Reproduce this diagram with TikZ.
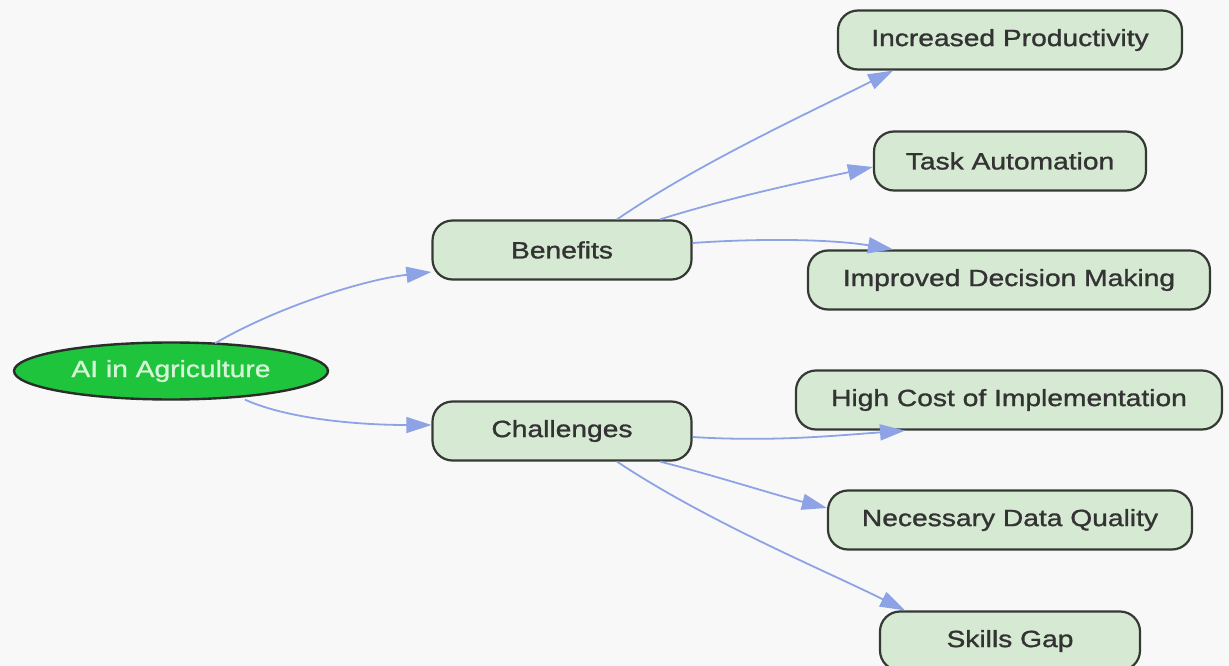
\documentclass[tikz,border=0pt]{standalone}
\usepackage{fontspec}
\setmainfont{Liberation Sans}[FakeStretch=1.2,FakeBold=1.2]
\usetikzlibrary{arrows.meta,shapes.geometric}
\definecolor{bg}{HTML}{F8F8F8}
\definecolor{boxfill}{HTML}{D6E9D2}
\definecolor{boxline}{HTML}{343934}
\definecolor{txt}{HTML}{333333}
\definecolor{rootfill}{HTML}{1EC43C}
\definecolor{roottxt}{HTML}{D6F5D6}
\definecolor{edge}{HTML}{8EA3E6}
\tikzset{
  box/.style={draw=boxline, line width=2.2pt, fill=boxfill, rounded corners=20pt,
    minimum height=59pt, text=txt, font=\fontsize{23.5}{27}\selectfont, inner sep=0pt},
  root/.style={ellipse, draw=boxline!80!black, line width=2.4pt, fill=rootfill, text=roottxt,
    minimum width=314pt, minimum height=57pt, inner sep=0pt, font=\fontsize{23.5}{27}\selectfont},
  conn/.style={draw=edge, line width=1.8pt, -{Triangle[length=25pt,width=16pt]}}
}
\begin{document}
\begin{tikzpicture}[x=1pt,y=-1pt]
\fill[bg] (0,0) rectangle (1229,666);
\useasboundingbox (0,0) rectangle (1229,666);
\node[root] (ai) at (171,371) {AI in Agriculture};
\node[box, minimum width=259pt] (ben) at (562,250) {Benefits};
\node[box, minimum width=259pt] (cha) at (562,431) {Challenges};
\node[box, minimum width=344pt] (ip) at (1010,40) {Increased Productivity};
\node[box, minimum width=272pt] (ta) at (1010,161) {Task Automation};
\node[box, minimum width=402pt] (idm) at (1009,280) {Improved Decision Making};
\node[box, minimum width=426pt] (hc) at (1009,400) {High Cost of Implementation};
\node[box, minimum width=364pt] (ndq) at (1010,520) {Necessary Data Quality};
\node[box, minimum width=260pt] (sg) at (1010,641) {Skills Gap};

\draw[conn] ([xshift=44pt,yshift=-2pt]ai.north) .. controls +(60,-35) and +(-70,8) .. ([yshift=-22pt]ben.west);
\draw[conn] ([xshift=74pt,yshift=1pt]ai.south) .. controls +(45,20) and +(-70,0) .. ([yshift=6pt]cha.west);
\draw[conn] ([xshift=55pt]ben.north) .. controls +(80,-55) and +(-90,45) .. ([xshift=-117pt]ip.south);
\draw[conn] ([xshift=98pt]ben.north) .. controls +(70,-22) and +(-70,15) .. ([yshift=-6pt]ta.west);
\draw[conn] ([yshift=7pt]ben.east) .. controls +(70,-5) and +(-60,-10) .. ([xshift=-116pt]idm.north);
\draw[conn] ([yshift=-6pt]cha.east) .. controls +(80,5) and +(-70,5) .. ([xshift=-104pt]hc.south);
\draw[conn] ([xshift=98pt]cha.south) .. controls +(55,14) and +(-55,-14) .. ([yshift=12pt]ndq.west);
\draw[conn] ([xshift=55pt]cha.south) .. controls +(90,60) and +(-80,-40) .. ([xshift=-105pt]sg.north);
\end{tikzpicture}
\end{document}
